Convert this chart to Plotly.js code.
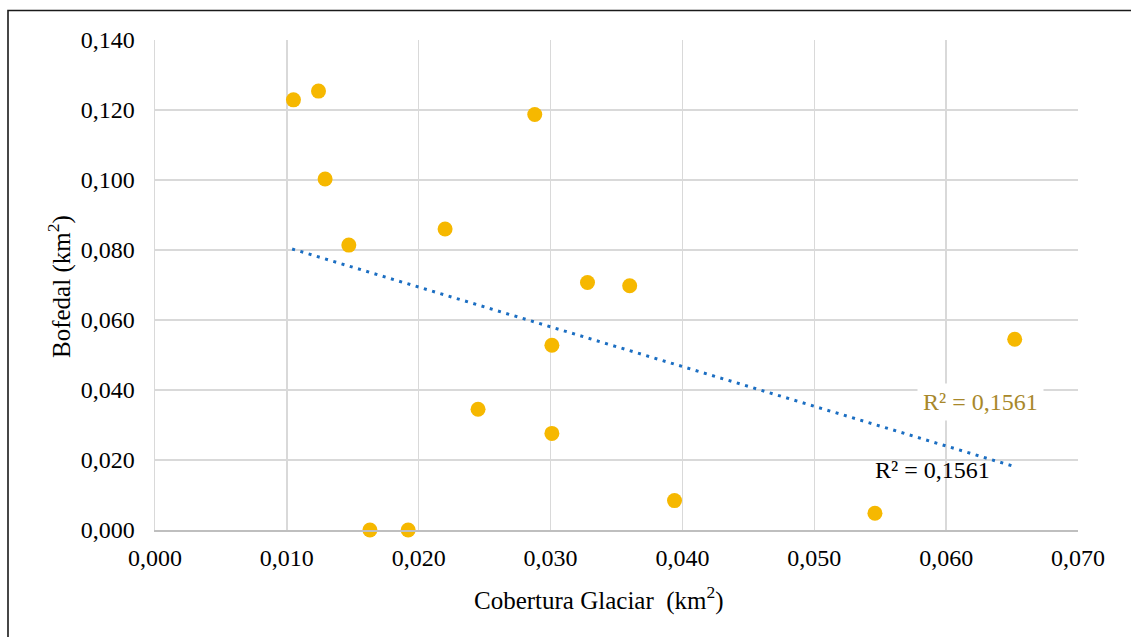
<!DOCTYPE html>
<html><head><meta charset="utf-8">
<script src="https://cdn.plot.ly/plotly-3.0.1.min.js"></script>
<style>html,body{margin:0;padding:0;background:#fff}#chart{width:1131px;height:637px}</style>
</head><body><div id="chart"></div>
<script>
// Data
const coberturaGlaciar = [0.0105, 0.0124, 0.0129, 0.0147, 0.0163, 0.0192, 0.0220, 0.0245, 0.0288, 0.0301, 0.0301, 0.0328, 0.0360, 0.0394, 0.0546, 0.0652];
const bofedal          = [0.1229, 0.1254, 0.1003, 0.0814, 0.0000, 0.0000, 0.0860, 0.0345, 0.1187, 0.0528, 0.0276, 0.0707, 0.0698, 0.0084, 0.0048, 0.0545];
const trendX = [0.0104, 0.0652];
const trendY = [0.0803, 0.0181];
const r2Text = 'R² = 0,1561';
const xTickVals = [0, 0.01, 0.02, 0.03, 0.04, 0.05, 0.06, 0.07];
const xTickText = ['0,000', '0,010', '0,020', '0,030', '0,040', '0,050', '0,060', '0,070'];
const yTickVals = [0, 0.02, 0.04, 0.06, 0.08, 0.10, 0.12, 0.14];
const yTickText = ['0,000', '0,020', '0,040', '0,060', '0,080', '0,100', '0,120', '0,140'];
const xTitle = 'Cobertura Glaciar  (km<sup>2</sup>)';
const yTitle = 'Bofedal (km<sup>2</sup>)';

const W = 1131, H = 637, ML = 155, MR = 53, MT = 40, MB = 107;
const PW = W - ML - MR, PH = H - MT - MB;
const px2x = p => (p - ML) / PW;
const py2y = p => (H - MB - p) / PH;
const FONT = '"Liberation Serif", "Times New Roman", serif';

const traces = [
  {
    x: trendX, y: trendY, type: 'scatter', mode: 'lines',
    line: {color: '#1b6ec2', width: 3, dash: '3px,5.6px'},
    hoverinfo: 'skip', showlegend: false
  },
  {
    x: coberturaGlaciar, y: bofedal, type: 'scatter', mode: 'markers',
    marker: {color: '#f6b800', size: 15},
    cliponaxis: false, showlegend: false
  }
];

const layout = {
  width: W, height: H,
  margin: {l: ML, r: MR, t: MT, b: MB},
  paper_bgcolor: '#ffffff', plot_bgcolor: '#ffffff',
  font: {family: FONT, color: '#000', size: 24},
  showlegend: false,
  xaxis: {
    range: [0, 0.07], tickvals: xTickVals, ticktext: xTickText,
    showgrid: true, gridcolor: '#d9d9d9', gridwidth: 1.5,
    zeroline: false, showline: true, linecolor: '#bfbfbf', linewidth: 1.5,
    ticks: 'outside', ticklen: 6, tickcolor: 'rgba(0,0,0,0)',
    tickfont: {family: FONT, size: 24, color: '#000'},
    fixedrange: true
  },
  yaxis: {
    range: [0, 0.14], tickvals: yTickVals, ticktext: yTickText,
    showgrid: true, gridcolor: '#d9d9d9', gridwidth: 1.5,
    zeroline: false, showline: true, linecolor: '#d9d9d9', linewidth: 1.5,
    ticks: 'outside', ticklen: 14, tickcolor: 'rgba(0,0,0,0)',
    tickfont: {family: FONT, size: 24, color: '#000'},
    fixedrange: true
  },
  shapes: [
    {type: 'rect', xref: 'paper', yref: 'paper',
     x0: px2x(8), x1: px2x(1145), y0: py2y(650), y1: py2y(10.5),
     line: {color: '#1a1a1a', width: 1.6}, fillcolor: 'rgba(0,0,0,0)', layer: 'above'}
  ],
  annotations: [
    {text: xTitle, xref: 'paper', yref: 'paper', x: px2x(599), y: py2y(598),
     xanchor: 'center', yanchor: 'middle', showarrow: false,
     font: {family: FONT, size: 25, color: '#000'}},
    {text: yTitle, xref: 'paper', yref: 'paper', x: px2x(59), y: py2y(287),
     xanchor: 'center', yanchor: 'middle', textangle: -90, showarrow: false,
     font: {family: FONT, size: 25, color: '#000'}},
    {text: r2Text, xref: 'x', yref: 'y', x: 0.06264, y: 0.0366,
     xanchor: 'center', yanchor: 'middle', showarrow: false,
     bgcolor: '#ffffff', borderpad: 5,
     font: {family: FONT, size: 24, color: '#a8882a'}},
    {text: r2Text, xref: 'x', yref: 'y', x: 0.05897, y: 0.01714,
     xanchor: 'center', yanchor: 'middle', showarrow: false,
     font: {family: FONT, size: 24, color: '#000'}}
  ]
};

Plotly.newPlot('chart', traces, layout, {displayModeBar: false, staticPlot: true});
</script>
</body></html>
